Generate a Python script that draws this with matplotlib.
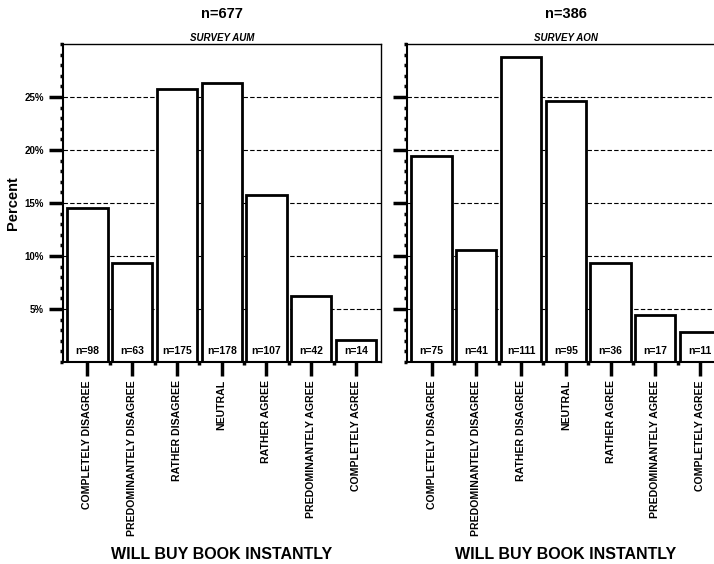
import numpy as np
import matplotlib
matplotlib.use('Agg')
import matplotlib.pyplot as plt
from matplotlib.ticker import MultipleLocator, FuncFormatter

plt.rcParams['font.family'] = ['Liberation Sans', 'DejaVu Sans']
plt.rcParams['font.weight'] = 'bold'

categories = ['COMPLETELY DISAGREE', 'PREDOMINANTELY DISAGREE', 'RATHER DISAGREE',
              'NEUTRAL', 'RATHER AGREE', 'PREDOMINANTELY AGREE', 'COMPLETELY AGREE']

aum_pct = [14.5, 9.3, 25.8, 26.3, 15.8, 6.2, 2.1]
aum_n = [98, 63, 175, 178, 107, 42, 14]
aum_total = 677

aon_pct = [19.4, 10.6, 28.8, 24.6, 9.3, 4.4, 2.85]
aon_n = [75, 41, 111, 95, 36, 17, 11]
aon_total = 386

fig = plt.figure(figsize=(7.14, 5.64), dpi=100)
ax1 = fig.add_axes([0.088, 0.358, 0.445, 0.564])
ax2 = fig.add_axes([0.570, 0.358, 0.445, 0.564])

panels = [(ax1, aum_pct, aum_n, aum_total, 'SURVEY AUM', True),
          (ax2, aon_pct, aon_n, aon_total, 'SURVEY AON', False)]

x = np.arange(len(categories))
for ax, pct, ns, total, sub, show_y in panels:
    ax.bar(x, pct, width=0.9, color='white', edgecolor='black', linewidth=2, zorder=2)
    for xi, n in zip(x, ns):
        ax.text(xi, 1.0, f'n={n}', ha='center', va='center', fontsize=7.5,
                fontweight='bold', zorder=3)
    ax.set_xlim(-0.55, 6.55)
    ax.set_ylim(0, 30)
    ax.yaxis.set_minor_locator(MultipleLocator(1))
    ax.set_yticks([5, 10, 15, 20, 25])
    ax.grid(axis='y', linestyle=(0, (4, 2)), color='black', linewidth=0.8, zorder=0)
    ax.set_xticks(x)
    ax.set_xticks(x[:-1] + 0.5, minor=True)
    ax.set_xticklabels(categories, rotation=90, fontsize=7.6, va='top', fontweight='bold')
    ax.tick_params(axis='x', which='major', length=10, width=2.5, direction='out', pad=3)
    ax.tick_params(axis='x', which='minor', length=2, width=2.5, direction='out')
    ax.tick_params(axis='y', which='major', length=10, width=2.5, direction='out', labelsize=7)
    ax.tick_params(axis='y', which='minor', length=2, width=2.5, direction='out')
    if show_y:
        ax.yaxis.set_major_formatter(FuncFormatter(lambda v, p: f'{v:.0f}%'))
    else:
        ax.set_yticklabels([])
    for s in ax.spines.values():
        s.set_linewidth(1)
    ax.spines['left'].set_linewidth(1.5)
    ax.spines['bottom'].set_linewidth(1.5)
    ax.set_xlabel('WILL BUY BOOK INSTANTLY', fontsize=11.5, fontweight='bold', va='center')
    ax.xaxis.set_label_coords(0.5, -0.605)
    ax.set_title(sub, fontsize=7, style='italic', fontweight='bold', pad=2)
    cx = ax.get_position().x0 + 318 / 714 / 2
    fig.text(cx, 0.975, f'n={total}', ha='center', va='center', fontsize=10.5,
             fontweight='bold')

ax1.set_ylabel('Percent', fontsize=10.5, fontweight='bold')
ax1.yaxis.set_label_coords(-0.135, 0.5)

fig.savefig('out.png', dpi=100)
